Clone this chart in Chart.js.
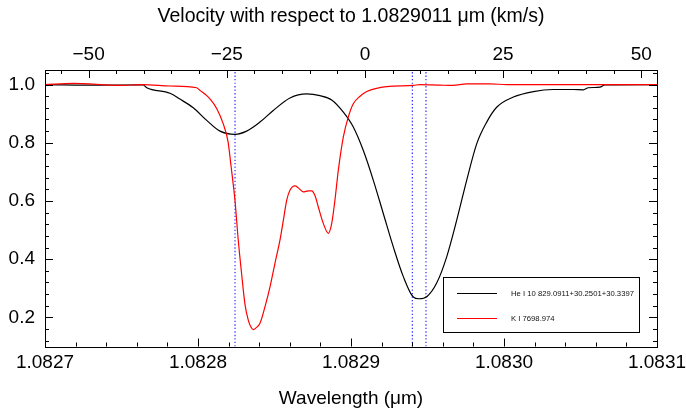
<!DOCTYPE html>
<html>
<head>
<meta charset="utf-8">
<script src="https://cdn.jsdelivr.net/npm/chart.js@4.4.0/dist/chart.umd.min.js"></script>
<style>
  html, body { margin: 0; padding: 0; background: #fff; }
  #wrap { width: 686px; height: 414px; }
</style>
</head>
<body>
<div id="wrap"><canvas id="spec"></canvas></div>
<script>
// He I 10830 profile (black), wavelength in um and normalised flux
const heWave = [1.0827000, 1.0827360, 1.0827641, 1.0827665, 1.0827817, 1.0827882, 1.0827969, 1.0828057,
  1.0828144, 1.0828242, 1.0828318, 1.0828405, 1.0828492, 1.0828601, 1.0828710, 1.0828797, 1.0828874,
  1.0828950, 1.0829015, 1.0829080, 1.0829146, 1.0829211, 1.0829276, 1.0829342, 1.0829407, 1.0829444,
  1.0829497, 1.0829560, 1.0829626, 1.0829691, 1.0829756, 1.0829822, 1.0829887, 1.0829952, 1.0830061,
  1.0830192, 1.0830322, 1.0830453, 1.0830518, 1.0830551, 1.0830627, 1.0830660, 1.0831000];
const heFlux = [1.000, 0.998, 0.999, 0.989, 0.970, 0.950, 0.920, 0.877,
  0.840, 0.829, 0.840, 0.871, 0.911, 0.954, 0.968, 0.962, 0.947,
  0.905, 0.854, 0.774, 0.671, 0.557, 0.443, 0.340, 0.270, 0.264,
  0.272, 0.318, 0.409, 0.534, 0.671, 0.797, 0.871, 0.922, 0.957,
  0.976, 0.983, 0.983, 0.982, 0.989, 0.991, 0.999, 1.000];

// K I 7699 profile (red), put on the same velocity frame
const kWave = [1.0827000, 1.0827183, 1.0827490, 1.0827641, 1.0827817, 1.0827991, 1.0828013, 1.0828057,
  1.0828078, 1.0828122, 1.0828165, 1.0828196, 1.0828216, 1.0828242, 1.0828263, 1.0828286, 1.0828307,
  1.0828329, 1.0828346, 1.0828361, 1.0828379, 1.0828405, 1.0828438, 1.0828471, 1.0828503, 1.0828536,
  1.0828558, 1.0828580, 1.0828601, 1.0828634, 1.0828656, 1.0828688, 1.0828721, 1.0828743, 1.0828765,
  1.0828786, 1.0828819, 1.0828852, 1.0828874, 1.0828895, 1.0828917, 1.0828950, 1.0828982, 1.0829015,
  1.0829059, 1.0829103, 1.0829233, 1.0829407, 1.0829451, 1.0829582, 1.0829667, 1.0829756, 1.0829909,
  1.0830018, 1.0830235, 1.0831000];
const kFlux = [1.000, 1.004, 0.997, 1.000, 0.995, 0.989, 0.980, 0.962,
  0.951, 0.918, 0.865, 0.805, 0.720, 0.600, 0.466, 0.345, 0.245,
  0.190, 0.167, 0.158, 0.164, 0.180, 0.237, 0.306, 0.386, 0.466,
  0.534, 0.603, 0.637, 0.652, 0.645, 0.631, 0.635, 0.635, 0.618,
  0.580, 0.523, 0.489, 0.523, 0.603, 0.705, 0.820, 0.888, 0.934,
  0.960, 0.976, 0.993, 0.997, 1.000, 0.998, 0.997, 1.002, 1.002,
  1.000, 1.000, 1.000];

const heLabel = 'He I 10 829.0911+30.2501+30.3397';
const kLabel = 'K I 7698.974';

// dotted markers: the three He I components
const markWave = [1.0828242, 1.0829401, 1.0829490];

const waveTicks = [1.0827, 1.0828, 1.0829, 1.0830, 1.0831];
const velTicks = [-50, -25, 0, 25, 50];
const fluxTicks = [0.2, 0.4, 0.6, 0.8, 1.0];

const WMIN = 1.0827, WMAX = 1.0831;
const YMIN = 0.1, YMAX = 1.05;
const V0 = 1.0829091;          // zero point of the velocity axis
const C_KMS = 299792.458;
const toVel = w => (w - V0) / V0 * C_KMS;

const FONT = '"Liberation Sans", Arial, Helvetica, sans-serif';
Chart.defaults.font.family = FONT;
Chart.defaults.color = '#000';

const pts = (xs, ys) => xs.map((x, i) => ({ x, y: ys[i] }));

const datasets = [
  { label: heLabel, data: pts(heWave, heFlux), borderColor: '#000', borderWidth: 1.2, order: 1, inLegend: true },
  { label: kLabel, data: pts(kWave, kFlux), borderColor: '#ff0000', borderWidth: 1.2, order: 0, inLegend: true }
];
markWave.forEach(w => {
  datasets.push({
    label: 'mark', data: [{ x: w, y: YMIN }, { x: w, y: YMAX }],
    borderColor: '#2a2aff', borderWidth: 1.2, borderDash: [1.3, 2.2], order: 2
  });
});
datasets.forEach(d => {
  d.pointRadius = 0;
  d.fill = false;
  d.cubicInterpolationMode = 'monotone';
});

// inward ticks on all four sides + frame
function tickRun(from, to, step) {
  const out = [];
  for (let v = from; v <= to + step * 1e-6; v += step) out.push(+v.toFixed(8));
  return out;
}
const frameTicks = {
  id: 'frameTicks',
  afterDatasetsDraw(chart) {
    const { ctx, chartArea: a, scales } = chart;
    ctx.save();
    ctx.strokeStyle = '#000';
    ctx.lineWidth = 1;
    ctx.strokeRect(Math.round(a.left) + 0.5, Math.round(a.top) + 0.5,
      Math.round(a.right - a.left), Math.round(a.bottom - a.top));
    const seg = (x1, y1, x2, y2) => { ctx.beginPath(); ctx.moveTo(x1, y1); ctx.lineTo(x2, y2); ctx.stroke(); };
    // bottom: wavelength
    tickRun(WMIN, WMAX, 0.00002).forEach(v => {
      const major = waveTicks.some(t => Math.abs(t - v) < 1e-9);
      const px = Math.round(scales.x.getPixelForValue(v)) + 0.5;
      seg(px, a.bottom, px, a.bottom - (major ? 8 : 4));
    });
    // top: velocity
    tickRun(-55, 50, 5).forEach(v => {
      const major = velTicks.includes(v);
      const px = Math.round(scales.x2.getPixelForValue(v)) + 0.5;
      seg(px, a.top, px, a.top + (major ? 8 : 4));
    });
    // left and right: flux
    tickRun(0.12, 1.04, 0.04).forEach(v => {
      const major = fluxTicks.some(t => Math.abs(t - v) < 1e-6);
      const py = Math.round(scales.y.getPixelForValue(v)) + 0.5;
      const len = major ? 8 : 4;
      seg(a.left, py, a.left + len, py);
      seg(a.right, py, a.right - len, py);
    });
    ctx.restore();
  }
};

const legendBox = {
  id: 'legendBox',
  afterDatasetsDraw(chart) {
    const ctx = chart.ctx;
    ctx.save();
    ctx.fillStyle = '#fff';
    ctx.fillRect(443, 277, 196, 56);
    ctx.strokeStyle = '#000';
    ctx.lineWidth = 1;
    ctx.strokeRect(443.5, 277.5, 196, 55);
    chart.data.datasets.filter(d => d.inLegend).forEach((d, i) => {
      const y = 293.5 + i * 25;
      ctx.strokeStyle = d.borderColor;
      ctx.lineWidth = 1.2;
      ctx.beginPath(); ctx.moveTo(457, y); ctx.lineTo(497, y); ctx.stroke();
      ctx.fillStyle = '#111';
      ctx.font = '7.7px ' + FONT;
      ctx.textBaseline = 'middle';
      ctx.fillText(d.label, 511, y);
    });
    ctx.restore();
  }
};

const noGrid = { drawOnChartArea: false, drawTicks: false };

new Chart(document.getElementById('spec').getContext('2d'), {
  type: 'line',
  data: { datasets },
  options: {
    responsive: true,
    maintainAspectRatio: false,
    animation: false,
    devicePixelRatio: 1,
    layout: { padding: { left: 0, right: 29, top: 0, bottom: 0 } },
    plugins: { legend: { display: false }, tooltip: { enabled: false } },
    scales: {
      x: {
        type: 'linear', position: 'bottom', min: WMIN, max: WMAX,
        afterBuildTicks: s => { s.ticks = waveTicks.map(v => ({ value: v })); },
        afterFit: s => { s.height = 67.5; s.paddingLeft = 0; s.paddingRight = 0; },
        ticks: { font: { size: 19 }, padding: 4.5, maxRotation: 0, autoSkip: false, callback: v => v.toFixed(4) },
        grid: noGrid,
        border: { display: false },
        title: { display: true, text: 'Wavelength (μm)', font: { size: 19 }, padding: { top: 0, bottom: 4 } }
      },
      x2: {
        type: 'linear', position: 'top', min: toVel(WMIN), max: toVel(WMAX),
        afterBuildTicks: s => { s.ticks = velTicks.map(v => ({ value: v })); },
        afterFit: s => { s.height = 70; s.paddingLeft = 0; s.paddingRight = 0; },
        ticks: { font: { size: 19 }, padding: 3.5, maxRotation: 0, autoSkip: false,
          callback: v => v < 0 ? '\u2212' + Math.abs(v) : String(v) },
        grid: noGrid,
        border: { display: false },
        title: { display: true, text: 'Velocity with respect to 1.0829011 μm (km/s)', font: { size: 19.5 }, padding: { top: 5, bottom: 0 } }
      },
      y: {
        type: 'linear', position: 'left', min: YMIN, max: YMAX,
        afterBuildTicks: s => { s.ticks = fluxTicks.map(v => ({ value: v })); },
        afterFit: s => { s.width = 45; s.paddingTop = 0; s.paddingBottom = 0; },
        ticks: { font: { size: 19 }, padding: 10, callback: v => v.toFixed(1) },
        grid: noGrid,
        border: { display: false }
      }
    }
  },
  plugins: [frameTicks, legendBox]
});
</script>
</body>
</html>
